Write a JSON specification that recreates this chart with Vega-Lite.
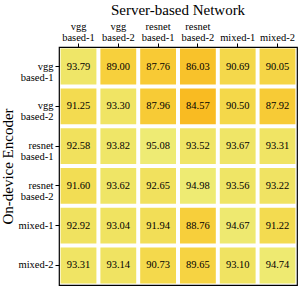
{
  "$schema": "https://vega.github.io/schema/vega-lite/v6.json",
  "width": 238,
  "height": 238,
  "autosize": "none",
  "padding": {"left": 59, "top": 47, "right": 2, "bottom": 1},
  "background": "white",
  "config": {
    "font": "Times New Roman, Liberation Serif, serif",
    "view": {"stroke": "black", "strokeWidth": 1.2},
    "title": {"font": "Times New Roman, Liberation Serif, serif", "fontSize": 15, "fontWeight": "normal", "color": "black"},
    "axis": {"labelFont": "Times New Roman, Liberation Serif, serif", "titleFont": "Times New Roman, Liberation Serif, serif", "labelColor": "black", "titleColor": "black", "domain": false, "tickColor": "black", "grid": false}
  },
  "title": {"text": "Server-based Network", "offset": 3},
  "data": {"values": [
    {"r": "vgg based-1", "c": "vgg based-1", "v": 93.79},
    {"r": "vgg based-1", "c": "vgg based-2", "v": 89.00},
    {"r": "vgg based-1", "c": "resnet based-1", "v": 87.76},
    {"r": "vgg based-1", "c": "resnet based-2", "v": 86.03},
    {"r": "vgg based-1", "c": "mixed-1", "v": 90.69},
    {"r": "vgg based-1", "c": "mixed-2", "v": 90.05},
    {"r": "vgg based-2", "c": "vgg based-1", "v": 91.25},
    {"r": "vgg based-2", "c": "vgg based-2", "v": 93.30},
    {"r": "vgg based-2", "c": "resnet based-1", "v": 87.96},
    {"r": "vgg based-2", "c": "resnet based-2", "v": 84.57},
    {"r": "vgg based-2", "c": "mixed-1", "v": 90.50},
    {"r": "vgg based-2", "c": "mixed-2", "v": 87.92},
    {"r": "resnet based-1", "c": "vgg based-1", "v": 92.58},
    {"r": "resnet based-1", "c": "vgg based-2", "v": 93.82},
    {"r": "resnet based-1", "c": "resnet based-1", "v": 95.08},
    {"r": "resnet based-1", "c": "resnet based-2", "v": 93.52},
    {"r": "resnet based-1", "c": "mixed-1", "v": 93.67},
    {"r": "resnet based-1", "c": "mixed-2", "v": 93.31},
    {"r": "resnet based-2", "c": "vgg based-1", "v": 91.60},
    {"r": "resnet based-2", "c": "vgg based-2", "v": 93.62},
    {"r": "resnet based-2", "c": "resnet based-1", "v": 92.65},
    {"r": "resnet based-2", "c": "resnet based-2", "v": 94.98},
    {"r": "resnet based-2", "c": "mixed-1", "v": 93.56},
    {"r": "resnet based-2", "c": "mixed-2", "v": 93.22},
    {"r": "mixed-1", "c": "vgg based-1", "v": 92.92},
    {"r": "mixed-1", "c": "vgg based-2", "v": 93.04},
    {"r": "mixed-1", "c": "resnet based-1", "v": 91.94},
    {"r": "mixed-1", "c": "resnet based-2", "v": 88.76},
    {"r": "mixed-1", "c": "mixed-1", "v": 94.67},
    {"r": "mixed-1", "c": "mixed-2", "v": 91.22},
    {"r": "mixed-2", "c": "vgg based-1", "v": 93.31},
    {"r": "mixed-2", "c": "vgg based-2", "v": 93.14},
    {"r": "mixed-2", "c": "resnet based-1", "v": 90.73},
    {"r": "mixed-2", "c": "resnet based-2", "v": 89.65},
    {"r": "mixed-2", "c": "mixed-1", "v": 93.10},
    {"r": "mixed-2", "c": "mixed-2", "v": 94.74}
  ]},
  "layer": [
    {"mark": {"type": "rect"},
     "encoding": {
       "x": {"field": "c", "type": "nominal", "sort": null,
         "scale": {"paddingInner": 0.1, "paddingOuter": 0.04},
         "axis": {"orient": "top", "title": null, "labelAngle": 0, "labelFontSize": 10.5, "labelBaseline": "alphabetic", "labelExpr": "indexof(datum.label, ' ') > 0 ? split(datum.label, ' ')[1] : datum.label", "tickSize": 4, "labelPadding": 3}},
       "y": {"field": "r", "type": "nominal", "sort": null,
         "scale": {"paddingInner": 0.1, "paddingOuter": 0.04},
         "axis": {"title": "On-device Encoder", "titleFontSize": 15, "titleFontWeight": "normal", "labelFontSize": 10.5, "labelExpr": "split(datum.label, ' ')", "labelLineHeight": 11, "tickSize": 4, "labelPadding": 2, "titlePadding": 3}},
       "color": {"field": "v", "type": "quantitative", "legend": null,
       "scale": {"domain": [84.5, 89, 91, 95.1], "range": ["#f9bb22", "#f7d03c", "#f3da4e", "#eeeb74"]}}}},
    {"mark": {"type": "text", "fontSize": 10.5, "font": "Times New Roman, Liberation Serif, serif", "color": "black"},
     "encoding": {
       "x": {"field": "c", "type": "nominal", "sort": null,
         "axis": {"orient": "top", "title": null, "labelAngle": 0, "labelFontSize": 10.5, "labelBaseline": "alphabetic", "labelExpr": "indexof(datum.label, ' ') > 0 ? split(datum.label, ' ')[0] : ''", "ticks": false, "labelPadding": 18}},
       "y": {"field": "r", "type": "nominal", "sort": null},
       "text": {"field": "v", "type": "quantitative", "format": ".2f"}}}
  ],
  "resolve": {"axis": {"x": "independent"}}
}
